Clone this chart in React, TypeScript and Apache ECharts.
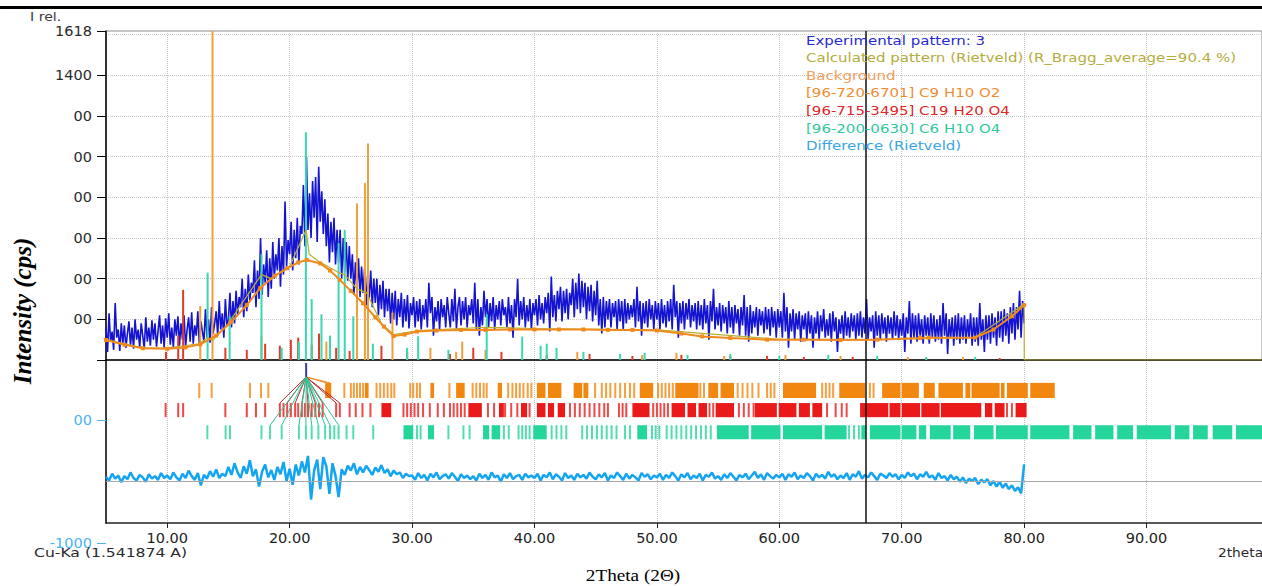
import React, { useEffect, useRef } from 'react';
import * as echarts from 'echarts';

// ---------------- data ----------------
const X_MIN = 5;
const X_MAX = 99.43;
const EXP_START = 5;
const EXP_STEP = 0.125;
const DIFF_START = 5;
const DIFF_STEP = 0.25;
const cursorX = 67.1;
const selectedPeak = 21.35;

// Experimental pattern (I rel.), 2theta 5.000 .. 79.875 step 0.125 (one row per degree)
const experimental = [
  160, 40, 230, 90, 140, 50, 280, 110,
  150, 45, 180, 80, 170, 60, 130, 190,
  70, 160, 55, 200, 100, 150, 60, 180,
  120, 55, 210, 90, 160, 70, 195, 100,
  180, 65, 140, 220, 80, 170, 60, 205,
  110, 230, 75, 160, 60, 200, 120, 215,
  70, 180, 100, 220, 65, 150, 210, 90,
  235, 80, 170, 120, 240, 75, 190, 140,
  90, 250, 110, 200, 85, 260, 130, 180,
  240, 120, 290, 150, 230, 110, 300, 170,
  200, 330, 160, 290, 180, 340, 220, 310,
  260, 400, 210, 350, 240, 420, 290, 380,
  330, 490, 260, 440, 300, 600, 320, 470,
  380, 540, 310, 500, 350, 580, 400, 520,
  440, 600, 360, 560, 420, 780, 460, 590,
  520, 680, 440, 640, 500, 700, 470, 660,
  620, 860, 560, 1000, 640, 820, 600, 880,
  700, 900, 580, 950, 680, 830, 620, 790,
  560, 720, 480, 680, 530, 700, 470, 640,
  480, 640, 400, 600, 430, 580, 390, 560,
  400, 520, 320, 480, 350, 500, 310, 460,
  330, 450, 270, 420, 300, 440, 260, 400,
  280, 400, 220, 370, 250, 390, 210, 350,
  240, 350, 180, 330, 200, 340, 170, 300,
  210, 330, 160, 300, 190, 320, 155, 280,
  220, 310, 160, 290, 190, 300, 150, 270,
  200, 300, 160, 380, 230, 310, 120, 260,
  190, 290, 150, 300, 210, 270, 160, 310,
  230, 160, 300, 190, 350, 150, 260, 310,
  170, 290, 200, 310, 160, 270, 220, 300,
  180, 380, 150, 300, 120, 260, 170, 340,
  210, 300, 160, 280, 190, 310, 150, 270,
  200, 290, 170, 300, 220, 260, 160, 310,
  180, 270, 110, 300, 210, 400, 170, 290,
  200, 310, 160, 270, 190, 300, 150, 280,
  220, 300, 170, 320, 200, 280, 180, 310,
  230, 330, 140, 410, 210, 320, 190, 340,
  250, 360, 190, 340, 230, 350, 200, 330,
  270, 400, 210, 380, 250, 425, 230, 390,
  260, 380, 200, 360, 240, 370, 190, 340,
  220, 390, 170, 300, 130, 310, 160, 290,
  200, 300, 160, 280, 210, 290, 150, 300,
  190, 290, 150, 300, 180, 280, 200, 270,
  210, 300, 160, 360, 190, 290, 120, 280,
  180, 290, 160, 300, 200, 270, 150, 290,
  200, 280, 150, 300, 180, 270, 160, 290,
  190, 300, 150, 370, 210, 290, 110, 280,
  180, 290, 150, 280, 200, 300, 160, 270,
  190, 280, 150, 290, 170, 270, 150, 300,
  180, 270, 100, 290, 190, 350, 150, 260,
  170, 280, 140, 270, 180, 260, 130, 290,
  160, 260, 130, 270, 180, 250, 120, 260,
  170, 320, 120, 260, 90, 270, 130, 240,
  160, 260, 120, 250, 170, 240, 130, 260,
  150, 250, 120, 260, 160, 240, 110, 250,
  160, 240, 110, 330, 140, 260, 60, 230,
  140, 250, 100, 230, 150, 240, 90, 220,
  150, 230, 100, 240, 130, 220, 60, 210,
  130, 240, 100, 220, 140, 250, 110, 200,
  120, 230, 90, 240, 140, 210, 40, 200,
  130, 220, 100, 240, 120, 210, 110, 230,
  140, 220, 100, 230, 120, 240, 110, 210,
  130, 300, 100, 210, 140, 220, 60, 240,
  120, 220, 100, 230, 130, 210, 90, 220,
  130, 210, 100, 240, 120, 220, 100, 200,
  120, 230, 40, 210, 130, 290, 80, 230,
  110, 220, 90, 230, 120, 200, 80, 220,
  120, 210, 80, 230, 110, 220, 90, 200,
  100, 220, 80, 280, 120, 230, 30, 200,
  110, 210, 70, 220, 100, 230, 80, 210,
  100, 220, 80, 200, 110, 230, 70, 210,
  90, 210, 70, 280, 100, 200, 40, 220,
  100, 220, 80, 230, 110, 210, 70, 240,
  110, 240, 90, 250, 120, 230, 80, 260,
  130, 280, 100, 260, 150, 340, 110, 290,
];
const experimentalEnd = [80, 180];

// Difference (Rietveld), 2theta 5.00 .. 79.75 step 0.25
const difference = [
  80, 20, 130, 50, 100, -10, 90, 40, 150, 60, 20, 110, 70, 0, 120, 50, 90, 30, 140, 60,
  100, 40, 150, 70, 20, 130, 60, 180, 90, 30, 140, -60, 110, 50, 170, 80, 200, 60, 130, 90,
  240, 110, 300, 150, 60, 250, 130, 350, 90, 200, -80, 160, 280, 70, 190, 30, 240, 120, 320, 10,
  210, -50, 280, 100, 330, 150, 420, -290, 180, 360, -120, 400, 250, -200, 300, 90, -250, 200, 110, 260,
  180, 300, 120, 240, 150, 260, 190, 110, 230, 160, 270, 140, 200, 90, 180, 120, 150, 60, 130, 90,
  100, 30, 140, 60, 110, 20, 130, 70, 150, 40, 90, 120, 50, 140, 80, 10, 120, 60, 100, 40,
  90, 20, 130, 60, 110, 30, 150, 70, 100, 0, 120, 60, 140, 40, 90, 110, 30, 130, 70, 100,
  60, 130, 20, 110, 70, 150, 40, 120, 80, 20, 140, 60, 100, 30, 130, 70, 110, 50, 150, 80,
  40, 120, 70, 140, 20, 100, 60, 150, 90, 30, 130, 50, 110, 70, 20, 140, 80, 120, 40, 100,
  70, 130, 30, 110, 60, 150, 90, 20, 120, 70, 140, 40, 100, 60, 130, 20, 110, 80, 150, 50,
  90, 30, 120, 60, 140, 80, 20, 110, 70, 130, 40, 100, 160, 60, 120, 30, 140, 90, 50, 110,
  70, 130, 30, 120, 80, 150, 40, 100, 60, 140, 90, 20, 130, 70, 110, 50, 160, 80, 120, 40,
  100, 60, 140, 30, 120, 80, 170, 50, 110, 70, 150, 90, 30, 130, 100, 60, 140, 80, 120, 40,
  110, 60, 150, 90, 130, 40, 120, 80, 160, 70, 100, 30, 140, 60, 90, 20, 110, 40, 80, 0,
  70, -20, 50, 10, 60, -40, 30, -10, 40, -60, 10, -80, 0, -100, -30, -120, -60, -150, -90, -190,
];
const differenceEnd = [80, 280];

const backgroundPts = [
  [5, 98], [6.5, 75], [8, 58], [10, 55], [11.5, 62], [12.7, 77], [14, 120], [15.2, 185], [16.5, 270],
  [17.6, 354], [18.8, 415], [19.8, 451], [20.7, 480], [21.4, 492], [22.5, 475], [23.3, 440], [24.1, 394],
  [25, 340], [26, 279], [27, 210], [27.7, 164], [28.5, 118], [29.4, 125], [30.4, 140], [32, 145],
  [34, 148], [36, 148], [38, 150], [40, 150], [42, 150], [44, 150], [46, 148], [48, 148], [50, 145],
  [52, 130], [53.7, 116], [56, 108], [59, 100], [62, 100], [65, 98], [68, 100], [71.5, 108], [72.2, 110],
  [76, 110], [77.5, 150], [79, 215], [80, 270],
];

const calculatedPts = [
  [5, 100], [8, 60], [10, 58], [12.6, 80], [13.3, 110], [13.7, 95], [15, 180], [17.7, 420], [18.5, 400],
  [20, 460], [21.35, 640], [21.6, 520], [22.5, 480], [24, 430], [24.5, 420], [25.5, 350], [26.3, 330],
  [27.5, 180], [28.5, 125], [30.5, 145], [36, 160], [40, 155], [50, 148], [60, 102], [70, 102], [76, 112],
  [80, 275], [80.01, 0], [99.43, 0],
];

// Peak sticks [2theta, I rel.]
const phase1Sticks = [
  [12.7, 265], [13.7, 2500], [17.7, 120], [23.0, 90], [25.5, 770], [26.15, 870], [26.4, 1065], [28.4, 233],
  [31.5, 60], [33.6, 40], [34.1, 90], [36.0, 50], [43.5, 40], [48.8, 25], [51.6, 35], [55.5, 20],
  [60.5, 25], [65.0, 20], [70.5, 15], [75.0, 15],
];
const phase2Sticks = [
  [9.9, 40], [10.9, 120], [11.3, 345], [14.75, 60], [16.5, 50], [18.0, 80], [19.2, 70], [20.1, 100],
  [20.7, 110], [21.8, 75], [22.4, 130], [23.8, 60], [24.9, 45], [27.5, 70], [29.6, 40], [33.1, 30],
  [35.0, 60], [37.3, 40], [41.0, 25], [44.5, 30], [48.0, 20], [52.0, 25], [56.0, 20], [59.0, 20],
  [62.0, 15], [66.0, 15], [72.0, 10], [78.0, 10],
];
const phase3Sticks = [
  [13.3, 430], [15.1, 215], [17.7, 520], [19.35, 60], [20.76, 90], [21.33, 1120], [21.8, 300], [22.6, 225],
  [23.3, 120], [24.0, 575], [24.5, 640], [25.2, 215], [26.8, 80], [29.6, 60], [30.5, 117], [32.97, 50],
  [36.1, 225], [39.0, 115], [40.5, 70], [41.0, 80], [41.8, 60], [44.0, 40], [47.0, 30], [49.0, 35],
  [52.5, 25], [56.0, 30], [60.0, 20], [64.0, 25], [68.0, 20], [72.0, 15], [76.0, 15],
];

// Reflection positions (single ticks) and dense runs [from, to]
const phase1Ticks = [
  12.62, 13.63, 16.76, 17.66, 18.26, 24.47, 25.0, 25.25, 25.5, 25.75, 26.0, 27.1, 27.4, 27.7, 28.0, 28.3,
  28.55, 29.85, 30.1, 30.4, 30.65, 33.05, 34.95, 35.25, 35.55, 35.85, 36.1, 37.85, 38.2, 38.5, 38.8, 39.1,
  39.45, 39.75, 44.95, 45.5, 45.85, 46.2, 46.6, 47.0, 47.4, 47.8, 48.15, 50.1, 50.4, 50.7, 51.0, 51.3,
  53.55, 53.85, 56.6, 57.0, 57.4, 57.8, 58.3, 59.0, 59.3, 59.6, 63.5, 63.8, 64.1, 64.4, 67.4, 67.7,
];
const phase1Runs = [
  [22.9, 23.4], [26.15, 26.45], [31.5, 31.8], [33.6, 34.3], [37.0, 37.35], [40.2, 40.9], [41.1, 42.2],
  [43.2, 43.9], [44.0, 44.4], [48.6, 49.7], [51.5, 53.4], [54.2, 55.0], [55.2, 56.3], [60.3, 63.0],
  [64.9, 67.0], [68.4, 69.9], [70.0, 71.4], [71.8, 72.7], [73.0, 75.0], [75.2, 75.6], [75.7, 78.0],
  [78.1, 78.4], [78.6, 80.3], [80.5, 82.5],
];
const phase2Ticks = [
  9.87, 10.9, 11.3, 14.75, 16.5, 17.25, 18.0, 19.2, 19.5, 19.8, 20.1, 20.45, 20.7, 21.0, 21.25, 21.5,
  21.8, 22.1, 22.4, 22.7, 23.8, 24.1, 24.9, 25.4, 25.95, 26.6, 29.3, 29.6, 29.9, 30.2, 30.5, 30.9, 31.45,
  32.1, 32.6, 33.1, 33.4, 33.7, 34.0, 34.3, 36.2, 36.7, 37.6, 38.1, 38.6, 39.6, 42.9, 43.3, 43.7, 44.1,
  44.5, 44.9, 45.3, 45.7, 46.0, 46.9, 47.2, 47.5, 49.7, 50.0, 50.3, 50.6, 50.9, 54.3, 54.6, 56.7, 57.1,
  57.5, 57.9, 58.2, 63.9, 64.6, 65.1, 65.5, 78.6, 79.0,
];
const phase2Runs = [
  [27.5, 28.3], [34.6, 35.7], [37.1, 37.5], [38.9, 39.4], [40.2, 40.9], [41.1, 41.6], [41.9, 42.5],
  [48.0, 49.4], [51.2, 52.3], [52.5, 53.2], [53.4, 54.1], [54.8, 56.3], [58.0, 59.8], [59.95, 61.4],
  [61.6, 62.5], [62.7, 63.5], [66.6, 68.9], [69.0, 69.9], [70.0, 71.5], [71.6, 73.1], [73.2, 76.5],
  [76.8, 77.4], [77.6, 78.4], [79.3, 80.2],
];
const phase3Ticks = [
  13.28, 14.77, 15.13, 17.7, 18.4, 19.35, 20.76, 21.33, 21.8, 22.35, 22.9, 23.3, 23.65, 24.0, 24.65, 25.2,
  26.83, 30.4, 30.7, 32.97, 34.2, 34.7, 37.5, 37.9, 38.7, 39.0, 39.3, 39.6, 41.4, 41.8, 42.2, 42.6, 43.9,
  44.3, 44.7, 45.1, 45.5, 45.9, 46.3, 46.7, 47.4, 47.8, 49.6, 49.9, 50.2, 50.8, 51.2, 51.6, 52.0, 52.4,
  52.8, 53.2, 53.6, 54.0, 54.4, 65.7, 66.1, 66.5,
];
const phase3Runs = [
  [29.3, 30.1], [31.3, 31.8], [35.8, 36.3], [36.5, 37.2], [39.9, 41.0], [48.4, 49.2], [54.9, 57.5],
  [57.7, 60.1], [60.3, 63.5], [63.7, 65.5], [66.7, 67.1], [67.4, 69.9], [70.0, 71.2], [71.4, 72.0],
  [72.3, 74.0], [74.2, 75.6], [75.9, 77.5], [77.7, 80.3], [80.5, 83.7], [84.0, 85.5], [85.8, 87.3],
  [87.6, 88.9], [89.2, 92.0], [92.3, 93.5], [93.8, 95.0], [95.4, 97.0], [97.3, 99.5],
];

// Reflections linked to the selected peak
const phase1Fan = [23.0, 23.3];
const phase2Fan = [19.2, 19.8, 20.45, 21.0, 21.5, 22.1, 22.7, 23.8, 24.1];
const phase3Fan = [18.4, 19.35, 20.76, 21.33, 21.8, 22.35, 22.9, 23.3, 24.0];

const legendNames = [
  'Experimental pattern: 3',
  'Calculated pattern (Rietveld) (R_Bragg_average=90.4 %)',
  'Background',
  '[96-720-6701] C9 H10 O2',
  '[96-715-3495] C19 H20 O4',
  '[96-200-0630] C6 H10 O4',
  'Difference (Rietveld)',
];

// ---------------- styles ----------------
const LEGEND_COLORS = ['#2a2ad2', '#b4ac3c', '#f0a060', '#f08c30', '#e02424', '#2ec89c', '#3aa6e6'];
const PHASE_COLORS = ['#f2870f', '#ea1a1a', '#24d69c'];
const STICK_COLORS = ['#eda03c', '#e03a2a', '#3ad8b0'];
const FAN_COLORS = ['#f08a1c', '#c02828', '#2cc898'];
const ROW_BANDS = [[1607, 1361], [1279, 1049], [918, 689]];
const FAN_APEX_Y = 1702;
const MARKER_TOP = 1930;
const UPPER_MAX = 1618;
const SANS = 'DejaVu Sans';

const txt = (text: string, x: number, y: number, font: string, fill: string, align: string, extra: any = {}) => ({
  type: 'text',
  x,
  y,
  z: 10,
  ...extra,
  style: { text, font, fill, align, verticalAlign: 'middle', textAlign: align, textVerticalAlign: 'middle' },
});

export default function App() {
  const ref = useRef<HTMLDivElement>(null);

  useEffect(() => {
    if (!ref.current) return;
    const chart = echarts.init(ref.current, undefined, { renderer: 'svg' });

    const expData = experimental.map((v, i) => [EXP_START + i * EXP_STEP, v]);
    expData.push(experimentalEnd);
    const diffData = difference.map((v, i) => [DIFF_START + i * DIFF_STEP, v]);
    diffData.push(differenceEnd);

    const tickItems: number[][] = [];
    [phase1Ticks, phase2Ticks, phase3Ticks].forEach((arr, row) => arr.forEach((x) => tickItems.push([x, x, row])));
    [phase1Runs, phase2Runs, phase3Runs].forEach((arr, row) => arr.forEach((r) => tickItems.push([r[0], r[1], row])));

    const fanItems: number[][] = [];
    [phase1Fan, phase2Fan, phase3Fan].forEach((arr, row) => arr.forEach((x) => fanItems.push([x, row])));

    const stickSeries = (data: number[][], idx: number) => ({
      type: 'custom',
      xAxisIndex: 0,
      yAxisIndex: 0,
      clip: true,
      silent: true,
      z: 3,
      data,
      encode: { x: 0, y: 1 },
      renderItem: (params: any, api: any) => {
        const x = api.value(0);
        const y = Math.min(api.value(1), UPPER_MAX);
        const p0 = api.coord([x, 0]);
        const p1 = api.coord([x, y]);
        return {
          type: 'line',
          shape: { x1: p0[0], y1: p0[1], x2: p1[0], y2: p1[1] },
          style: { stroke: STICK_COLORS[idx], lineWidth: 2 },
        };
      },
    });

    const cursorMark = {
      silent: true,
      symbol: ['none', 'none'],
      label: { show: false },
      animation: false,
      data: [{ xAxis: cursorX, lineStyle: { color: '#111', width: 1.5, type: 'solid' } }],
    };

    const option: any = {
      animation: false,
      backgroundColor: '#ffffff',
      grid: [
        { left: 106, top: 31, width: 1156, height: 329, show: true, borderColor: '#8a8a8a', borderWidth: 1, backgroundColor: 'transparent' },
        { left: 106, top: 360, width: 1156, height: 163 },
        { left: 106, top: 360, width: 1156, height: 183 },
      ],
      xAxis: [
        {
          gridIndex: 0, type: 'value', min: X_MIN, max: X_MAX, splitNumber: 10,
          axisLine: { show: true, lineStyle: { color: '#000', width: 1.5 } },
          axisTick: { show: false }, axisLabel: { show: false },
          splitLine: { show: true, lineStyle: { color: '#c4c4c4', type: 'dotted', width: 1 } },
        },
        {
          gridIndex: 1, type: 'value', min: X_MIN, max: X_MAX, splitNumber: 10,
          axisLine: { show: true, onZero: false, lineStyle: { color: '#222', width: 1.5 } },
          axisTick: { show: true, length: 5, lineStyle: { color: '#222' } },
          axisLabel: {
            show: true, color: '#222', fontFamily: SANS, fontSize: 14.5, margin: 7,
            showMinLabel: false, showMaxLabel: false,
            formatter: (v: number) => (Math.abs(v % 10) < 1e-6 ? v.toFixed(2) : ''),
          },
          splitLine: { show: true, lineStyle: { color: '#c4c4c4', type: 'dotted', width: 1 } },
        },
        {
          gridIndex: 2, type: 'value', min: X_MIN, max: X_MAX, show: false,
        },
      ],
      yAxis: [
        {
          gridIndex: 0, type: 'value', min: 0, max: UPPER_MAX, splitNumber: 8,
          axisLine: { show: true, lineStyle: { color: '#000', width: 1.5 } },
          axisTick: { show: true, length: 9, lineStyle: { color: '#000' } },
          axisLabel: {
            show: true, color: '#2a2a2a', fontFamily: SANS, fontSize: 14.5, margin: 14,
            showMaxLabel: true,
            formatter: (v: number) => (v === 0 ? '' : v >= 1400 ? String(v) : '00'),
          },
          splitLine: { show: true, lineStyle: { color: '#c8c8c8', type: 'dotted', width: 1 } },
        },
        {
          gridIndex: 1, type: 'value', min: -672, max: 1979,
          axisLine: { show: true, onZero: false, lineStyle: { color: '#000', width: 1.5 } },
          axisTick: { show: false }, axisLabel: { show: false }, splitLine: { show: false },
        },
        {
          gridIndex: 2, type: 'value', min: -1000, max: 1976, splitNumber: 3,
          axisLine: { show: false },
          axisTick: { show: true, length: 9, customValues: [-1000, 1000], lineStyle: { color: '#4cb4ee' } },
          axisLabel: {
            show: true, color: '#4cb4ee', fontFamily: SANS, fontSize: 14.5, margin: 14,
            customValues: [-1000, 1000],
            formatter: (v: number) => (v === -1000 ? '-1000' : v === 1000 ? '00' : ''),
          },
          splitLine: { show: false },
        },
      ],
      series: [
        {
          name: 'Experimental pattern: 3', type: 'line', xAxisIndex: 0, yAxisIndex: 0,
          data: expData, showSymbol: false, z: 2,
          lineStyle: { color: '#1414d0', width: 1.6 },
          markLine: cursorMark,
        },
        stickSeries(phase1Sticks, 0),
        stickSeries(phase2Sticks, 1),
        stickSeries(phase3Sticks, 2),
        {
          name: 'Calculated pattern', type: 'line', xAxisIndex: 0, yAxisIndex: 0,
          data: calculatedPts, showSymbol: false, z: 4,
          lineStyle: { color: '#b8b030', width: 1.2 },
        },
        {
          name: 'Background', type: 'line', xAxisIndex: 0, yAxisIndex: 0,
          data: backgroundPts, showSymbol: true, symbol: 'rect', symbolSize: 4, z: 5,
          itemStyle: { color: '#f08a1c' },
          lineStyle: { color: '#f08a1c', width: 2 },
        },
        {
          name: 'Difference (Rietveld)', type: 'line', xAxisIndex: 1, yAxisIndex: 1,
          data: diffData, showSymbol: false, z: 3,
          lineStyle: { color: '#14a4f2', width: 2.5 },
          markLine: {
            silent: true,
            symbol: ['none', 'none'],
            label: { show: false },
            animation: false,
            data: [
              { yAxis: 0, lineStyle: { color: '#a8a8a8', width: 1, type: 'solid' } },
              { xAxis: cursorX, lineStyle: { color: '#111', width: 1.5, type: 'solid' } },
            ],
          },
        },
        {
          type: 'custom', xAxisIndex: 1, yAxisIndex: 1, silent: true, z: 2,
          data: tickItems, encode: { x: [0, 1], y: 2 },
          renderItem: (params: any, api: any) => {
            const row = api.value(2);
            const band = ROW_BANDS[row];
            const p0 = api.coord([api.value(0), band[0]]);
            const p1 = api.coord([api.value(1), band[1]]);
            let x = p0[0];
            let w = p1[0] - p0[0];
            const thin = w < 2;
            if (thin) { x -= 1; w = 2; }
            return {
              type: 'rect',
              shape: { x, y: p0[1], width: w, height: p1[1] - p0[1] },
              style: { fill: PHASE_COLORS[row], opacity: thin ? 0.8 : 1 },
            };
          },
        },
        {
          type: 'custom', xAxisIndex: 1, yAxisIndex: 1, silent: true, z: 3,
          data: fanItems, encode: { x: 0, y: 1 },
          renderItem: (params: any, api: any) => {
            const row = api.value(1);
            const a = api.coord([selectedPeak, FAN_APEX_Y]);
            const b = api.coord([api.value(0), ROW_BANDS[row][0]]);
            return {
              type: 'line',
              shape: { x1: a[0], y1: a[1], x2: b[0], y2: b[1] },
              style: { stroke: FAN_COLORS[row], lineWidth: 1 },
            };
          },
        },
        {
          type: 'custom', xAxisIndex: 1, yAxisIndex: 1, silent: true, z: 4,
          data: [[selectedPeak, FAN_APEX_Y]], encode: { x: 0, y: 1 },
          renderItem: (params: any, api: any) => {
            const a = api.coord([api.value(0), api.value(1)]);
            const b = api.coord([api.value(0), MARKER_TOP]);
            return {
              type: 'line',
              shape: { x1: a[0], y1: a[1], x2: b[0], y2: b[1] },
              style: { stroke: '#3a3aa8', lineWidth: 2 },
            };
          },
        },
      ],
      graphic: [
        { type: 'rect', left: 0, top: 6, shape: { x: 0, y: 0, width: 1262, height: 3 }, style: { fill: '#000' } },
        txt('I rel.', 30, 17, `12px "${SANS}"`, '#3c3c3c', 'left', { scaleX: 1.18 }),
        txt('Cu-Ka (1.541874 A)', 34, 553, `12.5px "${SANS}"`, '#2a2a2a', 'left', { scaleX: 1.25 }),
        txt('2theta', 1218, 553, `12.5px "${SANS}"`, '#2a2a2a', 'left', { scaleX: 1.1 }),
        txt('Intensity (cps)', 22, 311, `italic bold 25px "Liberation Serif"`, '#000', 'center', { rotation: Math.PI / 2 }),
        txt('2Theta (2Θ)', 633, 576, `16px "Liberation Serif"`, '#000', 'center', { scaleX: 1.2 }),
        ...legendNames.map((name, i) =>
          txt(name, 806, 40 + i * 17.6, `12.5px "${SANS}"`, LEGEND_COLORS[i], 'left', { scaleX: 1.2 })
        ),
      ],
    };

    chart.setOption(option);
    return () => chart.dispose();
  }, []);

  return (
    <div
      ref={ref}
      style={{ position: 'absolute', left: 0, top: 0, width: 1262, height: 586, background: '#fff' }}
    />
  );
}
